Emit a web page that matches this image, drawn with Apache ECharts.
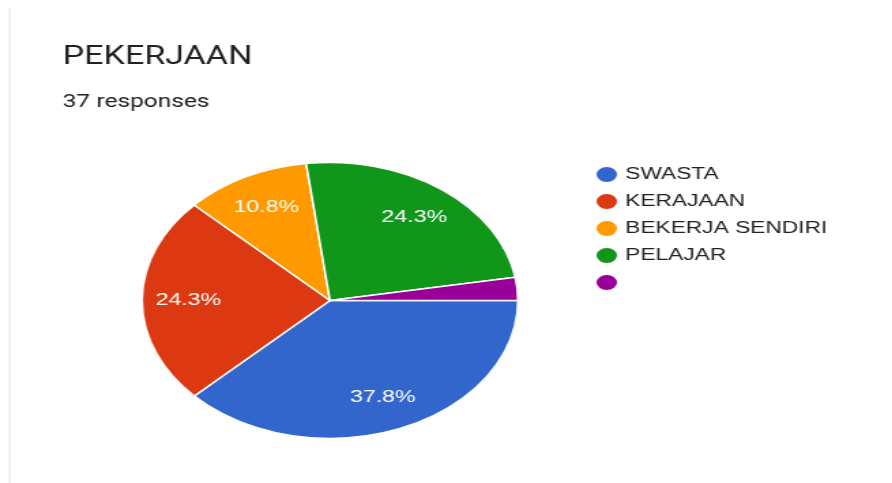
<!DOCTYPE html>
<html>
<head>
<meta charset="utf-8">
<script src="https://cdn.jsdelivr.net/npm/echarts@6/dist/echarts.min.js"></script>
<style>
  html, body { margin: 0; padding: 0; background: #ffffff; overflow: hidden; }
  /* The chart is laid out on a narrower canvas and stretched horizontally,
     which gives the wide, oval look of the pie, legend dots and text. */
  #chart {
    width: 655px;
    height: 483px;
    transform: scaleX(1.362);
    transform-origin: 0 0;
  }
</style>
</head>
<body>
<div id="chart"></div>
<script>
// Survey answers: occupation of respondents (37 responses)
const categories = ['SWASTA', 'KERAJAAN', 'BEKERJA SENDIRI', 'PELAJAR', ' '];
const counts = [14, 9, 4, 9, 1];
const colors = ['#3366cc', '#dc3912', '#ff9900', '#109618', '#990099'];
const totalResponses = 37;

const pieData = categories.map((name, i) => ({
  name: name,
  value: counts[i],
  itemStyle: { color: colors[i] }
}));

const total = counts.reduce((a, b) => a + b, 0);

const chart = echarts.init(document.getElementById('chart'), null, { renderer: 'canvas' });

const center = [242.3, 300.5];
const outerR = 138;

chart.setOption({
  backgroundColor: '#ffffff',
  animation: false,
  title: [
    {
      text: 'PEKERJAAN',
      left: 41,
      top: 40,
      textStyle: { fontFamily: 'Roboto', fontSize: 25, fontWeight: 'normal', color: '#202124' }
    },
    {
      text: totalResponses + ' responses',
      left: 41,
      top: 88,
      textStyle: { fontFamily: 'Roboto', fontSize: 18, fontWeight: 'normal', color: '#202124' }
    }
  ],
  legend: {
    orient: 'vertical',
    left: 431,
    top: 160,
    icon: 'circle',
    itemWidth: 17,
    itemHeight: 17,
    itemGap: 8,
    data: categories,
    selectedMode: false,
    textStyle: { fontFamily: 'Liberation Sans, Arial, sans-serif', fontSize: 16.7, color: '#222222' }
  },
  graphic: [
    {
      type: 'line',
      shape: { x1: 7, y1: 8, x2: 7, y2: 483 },
      style: { stroke: '#dcdcdc', lineWidth: 0.9 },
      silent: true
    }
  ],
  series: [
    {
      // the filled slices
      type: 'pie',
      center: center,
      radius: [0, outerR],
      startAngle: 0,
      clockwise: true,
      label: { show: false },
      labelLine: { show: false },
      emphasis: { disabled: true },
      itemStyle: { borderColor: '#ffffff', borderWidth: 1.5 },
      data: pieData
    },
    {
      // percentage labels, placed about three quarters of the way out
      type: 'pie',
      center: center,
      radius: [64, outerR],
      startAngle: 0,
      clockwise: true,
      silent: true,
      itemStyle: { color: 'rgba(0,0,0,0)', borderWidth: 0 },
      emphasis: { disabled: true },
      labelLine: { show: false },
      label: {
        show: true,
        position: 'inside',
        formatter: p => {
          const pct = p.value / total * 100;
          return pct >= 5 ? pct.toFixed(1) + '%' : '';
        },
        fontFamily: 'Liberation Sans, Arial, sans-serif',
        fontSize: 17,
        color: '#ffffff'
      },
      data: counts.map((v, i) => ({ name: categories[i], value: v }))
    }
  ]
});
</script>
</body>
</html>
